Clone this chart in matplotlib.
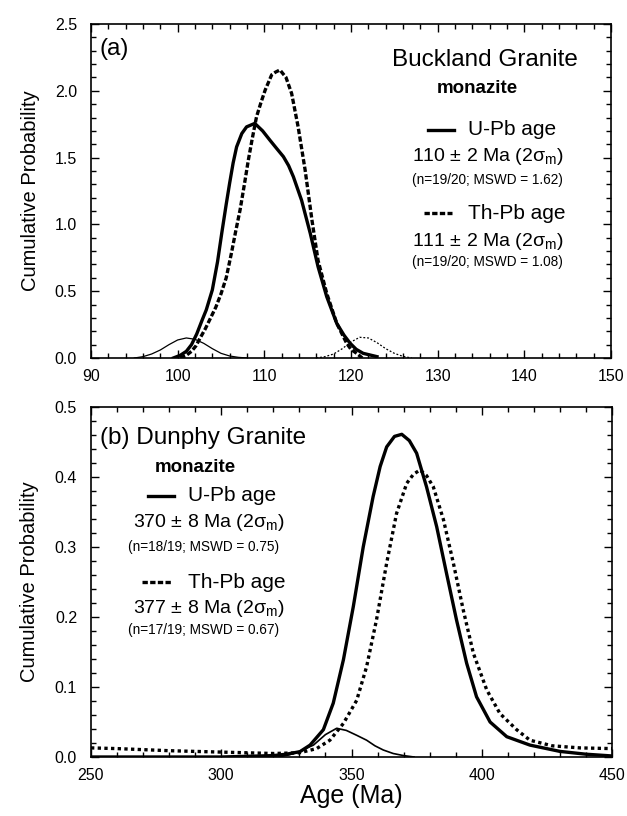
import matplotlib
matplotlib.use('Agg')
import matplotlib.pyplot as plt
from matplotlib.ticker import MultipleLocator, FormatStrFormatter

plt.rcParams['font.family'] = ['Liberation Sans', 'DejaVu Sans']
plt.rcParams['mathtext.fontset'] = 'custom'
plt.rcParams['mathtext.rm'] = 'Liberation Sans'
plt.rcParams['mathtext.it'] = 'Liberation Sans:italic'

# ---------------- panel (a): Buckland Granite ----------------
a_upb_x = [99.5, 100.3, 101.0, 101.6, 102.2, 102.8, 103.3, 104.0, 104.6, 105.1, 105.6,
           106.0, 106.4, 106.8, 107.4, 107.95, 108.9, 109.8, 110.65, 111.4, 112.2, 112.8,
           113.35, 114.3, 115.3, 116.2, 117.2, 118.35, 119.2, 119.9, 120.6, 121.4, 123.0]
a_upb_y = [0.0, 0.02, 0.05, 0.10, 0.18, 0.28, 0.36, 0.51, 0.72, 0.94, 1.15,
           1.31, 1.46, 1.58, 1.68, 1.73, 1.756, 1.70, 1.63, 1.57, 1.507, 1.44,
           1.357, 1.18, 0.933, 0.683, 0.459, 0.26, 0.17, 0.11, 0.065, 0.035, 0.01]

a_thpb_x = [100.3, 101.0, 101.6, 102.1, 102.6, 103.2, 103.8, 104.4, 105.0, 105.6, 106.2,
            106.7, 107.2, 107.7, 108.15, 108.6, 109.1, 109.6, 110.1, 110.85, 111.3, 111.8,
            112.5, 113.15, 113.9, 114.7, 115.5, 116.2, 117.2, 118.35, 119.5, 120.0, 120.65,
            121.3]
a_thpb_y = [0.0, 0.02, 0.05, 0.09, 0.15, 0.22, 0.30, 0.38, 0.48, 0.60, 0.784,
            0.95, 1.108, 1.30, 1.48, 1.64, 1.806, 1.91, 2.006, 2.12, 2.14, 2.156,
            2.10, 1.98, 1.73, 1.41, 1.03, 0.73, 0.484, 0.26, 0.11, 0.065, 0.035,
            0.0]

# rejected single analyses (thin curves)
a_rej_u_x = [95, 96, 97, 98, 99, 100, 101, 102, 103, 104, 105, 106, 107, 108]
a_rej_u_y = [0.0, 0.01, 0.03, 0.06, 0.10, 0.135, 0.15, 0.14, 0.11, 0.07, 0.035, 0.015, 0.005, 0.0]
a_rej_th_x = [116, 117, 118, 119, 120, 121, 122, 123, 124, 125, 126, 127]
a_rej_th_y = [0.0, 0.01, 0.03, 0.07, 0.12, 0.155, 0.15, 0.115, 0.07, 0.035, 0.012, 0.0]

# ---------------- panel (b): Dunphy Granite ----------------
b_upb_x = [250, 300, 320, 325, 330.2, 334.1, 339.2, 343.0, 346.9, 350.7, 354.5, 358.3,
           361.0, 363.5, 366.5, 369.3, 372.2, 375.0, 378.8, 382.7, 386.5, 390.3, 394.2,
           398.0, 403.2, 409.6, 418.5, 430, 440, 450]
b_upb_y = [0.0, 0.0, 0.002, 0.004, 0.0076, 0.017, 0.039, 0.077, 0.139, 0.215, 0.300, 0.372,
           0.415, 0.443, 0.458, 0.461, 0.452, 0.434, 0.386, 0.329, 0.262, 0.196, 0.134,
           0.086, 0.050, 0.029, 0.017, 0.008, 0.004, 0.0015]

b_thpb_x = [250, 260, 280, 300, 320, 330, 336.6, 341.7, 346.9, 352.0, 355.8, 359.6, 363.5,
            367.3, 371.2, 373.8, 376.3, 378.8, 381.4, 385.3, 389.1, 392.9, 396.8, 401.9,
            407.0, 413.4, 418.5, 427, 437.7, 450]
b_thpb_y = [0.013, 0.012, 0.009, 0.007, 0.005, 0.006, 0.012, 0.024, 0.048, 0.081, 0.129,
            0.196, 0.277, 0.348, 0.391, 0.404, 0.41, 0.402, 0.386, 0.339, 0.277, 0.21,
            0.148, 0.096, 0.062, 0.039, 0.024, 0.016, 0.013, 0.012]

b_rej_u_x = [322, 326, 330, 335.4, 340, 344.3, 348, 352, 355.8, 359, 362.2, 366, 370, 374]
b_rej_u_y = [0.0, 0.003, 0.008, 0.017, 0.032, 0.041, 0.038, 0.031, 0.024, 0.016, 0.010,
             0.005, 0.002, 0.0]

W, H = 627, 816
fig = plt.figure(figsize=(W / 100, H / 100), dpi=100, facecolor='white')

ax1 = fig.add_axes([91 / W, 1 - 358 / H, 520 / W, 334 / H])
ax2 = fig.add_axes([91 / W, 1 - 757 / H, 521 / W, 350 / H])

ax1.plot(a_rej_u_x, a_rej_u_y, color='black', lw=0.9)
ax1.plot(a_rej_th_x, a_rej_th_y, color='black', lw=0.9, ls=(0, (1.5, 1.5)))
ax1.plot(a_upb_x, a_upb_y, color='black', lw=2.4, solid_joinstyle='round')
ax1.plot(a_thpb_x, a_thpb_y, color='black', lw=2.4, ls=(0, (1.6, 0.7)))

ax2.plot(b_rej_u_x, b_rej_u_y, color='black', lw=1.2)
ax2.plot(b_upb_x, b_upb_y, color='black', lw=2.4, solid_joinstyle='round')
ax2.plot(b_thpb_x, b_thpb_y, color='black', lw=2.4, ls=(0, (1.0, 1.0)))

ax1.set_xlim(90, 150)
ax1.set_ylim(0, 2.5)
ax1.xaxis.set_major_locator(MultipleLocator(10))
ax1.xaxis.set_minor_locator(MultipleLocator(2))
ax1.yaxis.set_major_locator(MultipleLocator(0.5))
ax1.yaxis.set_minor_locator(MultipleLocator(0.1))

ax2.set_xlim(250, 450)
ax2.set_ylim(0, 0.5)
ax2.xaxis.set_major_locator(MultipleLocator(50))
ax2.xaxis.set_minor_locator(MultipleLocator(10))
ax2.yaxis.set_major_locator(MultipleLocator(0.1))
ax2.yaxis.set_minor_locator(MultipleLocator(0.02))

for ax in (ax1, ax2):
    ax.yaxis.set_major_formatter(FormatStrFormatter('%.1f'))
    ax.tick_params(which='both', direction='in', top=True, right=True, width=1.0)
    ax.tick_params(which='major', length=6)
    ax.tick_params(which='minor', length=3.5)
    ax.tick_params(axis='x', labelsize=11.5, pad=8)
    ax.tick_params(axis='y', labelsize=11.5, pad=10)
    for s in ax.spines.values():
        s.set_linewidth(1.2)
    ax.set_ylabel('Cumulative Probability', fontsize=14.5, labelpad=11)

ax2.set_xlabel('Age (Ma)', fontsize=18, labelpad=1)

# ---- panel (a) annotations ----
t1 = ax1.transAxes
ax1.text(0.017, 0.925, '(a)', fontsize=17.5, transform=t1, ha='left', va='center')
ax1.text(0.758, 0.892, 'Buckland Granite', fontsize=17.5, transform=t1, ha='center', va='center')
ax1.text(0.742, 0.808, 'monazite', fontsize=13.5, fontweight='bold', transform=t1,
         ha='center', va='center')
ax1.plot([0.648, 0.698], [0.683, 0.683], color='black', lw=2.4, transform=t1)
ax1.text(0.725, 0.683, 'U-Pb age', fontsize=15, transform=t1, ha='left', va='center')
ax1.text(0.763, 0.602, '110 ± 2 Ma (2σ$_\\mathrm{m}$)', fontsize=14, transform=t1,
         ha='center', va='center')
ax1.text(0.763, 0.533, '(n=19/20; MSWD = 1.62)', fontsize=9.8, transform=t1,
         ha='center', va='center')
ax1.plot([0.640, 0.694], [0.434, 0.434], color='black', lw=2.4, ls=(0, (1.6, 0.7)),
         transform=t1)
ax1.text(0.725, 0.434, 'Th-Pb age', fontsize=15, transform=t1, ha='left', va='center')
ax1.text(0.763, 0.350, '111 ± 2 Ma (2σ$_\\mathrm{m}$)', fontsize=14, transform=t1,
         ha='center', va='center')
ax1.text(0.763, 0.287, '(n=19/20; MSWD = 1.08)', fontsize=9.8, transform=t1,
         ha='center', va='center')

# ---- panel (b) annotations ----
t2 = ax2.transAxes
ax2.text(0.017, 0.911, '(b) Dunphy Granite', fontsize=17.5, transform=t2, ha='left', va='center')
ax2.text(0.200, 0.826, 'monazite', fontsize=13.5, fontweight='bold', transform=t2,
         ha='center', va='center')
ax2.plot([0.109, 0.159], [0.746, 0.746], color='black', lw=2.4, transform=t2)
ax2.text(0.186, 0.746, 'U-Pb age', fontsize=15, transform=t2, ha='left', va='center')
ax2.text(0.226, 0.669, '370 ± 8 Ma (2σ$_\\mathrm{m}$)', fontsize=14, transform=t2,
         ha='center', va='center')
ax2.text(0.217, 0.600, '(n=18/19; MSWD = 0.75)', fontsize=9.8, transform=t2,
         ha='center', va='center')
ax2.plot([0.098, 0.155], [0.5, 0.5], color='black', lw=2.4, ls=(0, (1.6, 0.7)),
         transform=t2)
ax2.text(0.186, 0.5, 'Th-Pb age', fontsize=15, transform=t2, ha='left', va='center')
ax2.text(0.226, 0.423, '377 ± 8 Ma (2σ$_\\mathrm{m}$)', fontsize=14, transform=t2,
         ha='center', va='center')
ax2.text(0.217, 0.363, '(n=17/19; MSWD = 0.67)', fontsize=9.8, transform=t2,
         ha='center', va='center')

fig.savefig('out.png', dpi=100, facecolor='white')
